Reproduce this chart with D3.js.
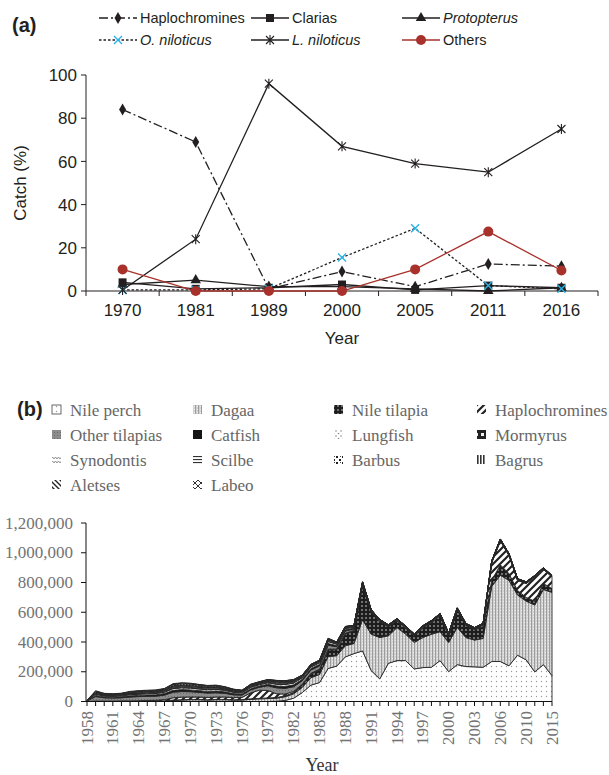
<!DOCTYPE html>
<html><head><meta charset="utf-8">
<script src="https://cdn.jsdelivr.net/npm/d3@7"></script>
<style>body{margin:0;background:#fff}svg{display:block}</style>
</head><body>
<svg id="chart" width="609" height="775"></svg>
<script>
// ---------- Panel (a): percentage of catch by taxon in survey years
const surveyYears = ["1970", "1981", "1989", "2000", "2005", "2011", "2016"];
const haplochromines = [84, 69, 1, 9, 2, 12.5, 11.5];
const clarias = [4, 1, 1.5, 3, 0.5, 2.5, 1.5];
const protopterus = [3, 5, 2, 2, 1, 0, 1.5];
const oNiloticus = [0.5, 0.5, 1, 15.5, 29, 2.5, 1];
const lNiloticus = [0.5, 24, 96, 67, 59, 55, 75];
const others = [10, 0, 0, 0, 10, 27.5, 9.5];
const catchTicks = [0, 20, 40, 60, 80, 100];

// ---------- Panel (b): landings by taxon (thousand tonnes)
const yearsB = ["1958","1959","1960","1961","1962","1963","1964","1965","1966","1967",
  "1968","1969","1970","1971","1972","1973","1974","1975","1976","1977",
  "1978","1979","1980","1981","1982","1983","1984","1985","1986","1987",
  "1988","1989","1990","1991","1992","1993","1994","1995","1996","1997",
  "1998","1999","2000","2001","2002","2003","2004","2005","2006","2007",
  "2008","2010","2011","2014","2015"];
const yearLabelsB = ["1958","1961","1964","1967","1970","1973","1976","1979","1982","1985",
  "1988","1991","1994","1997","2000","2003","2006","2010","2015"];
const landingTicks = [0, 200, 400, 600, 800, 1000, 1200];
const landingTickLabels = ["0","200,000","400,000","600,000","800,000","1,000,000","1,200,000"];

const nilePerch = [0,0,0,0,0,0,0,0,0,0, 0,0,0,0,0,0,0,0,0,0, 0,0,2,7,22,60,110,127,222,238,
  300,322,340,208,152,257,275,275,219,228, 230,275,201,248,235,233,230,269,269,240, 311,280,199,248,174];
const dagaa = [0,0,0,0,0,0,0,1,2,3, 8,10,12,12,10,12,12,10,10,15, 18,20,20,25,30,35,50,55,80,70,
  75,68,210,245,278,185,222,178,178,202, 222,194,196,250,195,180,194,505,580,575, 405,395,450,505,560];
const nileTilapia = [0,0,0,0,0,0,1,1,1,2, 2,2,2,2,2,2,2,2,3,3, 3,4,5,6,8,15,25,30,45,40,
  80,85,235,150,108,60,46,41,44,66, 78,109,49,118,81,70,80,40,70,45, 30,25,25,40,25];
const haplo = [0,3,3,3,4,4,4,5,5,8, 15,17,16,16,15,16,16,14,14,40, 55,50,25,12,8,6,5,5,5,4,
  4,3,2,2,2,2,2,2,2,2, 2,2,2,2,2,3,10,118,160,122, 68,93,162,95,78];
const otherTilapias = [4,30,22,20,21,26,28,28,28,30, 38,38,36,32,30,29,25,19,16,20, 20,32,40,38,32,24,22,22,26,16,
  15,10,5,3,3,3,3,3,3,3, 3,3,3,3,3,3,3,3,3,3, 3,3,3,3,3];
const catfish = [1,8,6,6,7,8,8,9,9,10, 12,13,12,11,11,11,10,8,7,8, 8,10,12,13,12,10,10,10,12,8,
  8,6,3,2,2,2,2,2,2,2, 2,2,2,2,2,2,2,2,2,2, 2,2,2,2,2];
const lungfish = [1,8,6,6,6,8,8,8,9,9, 12,12,12,11,11,11,10,9,8,9, 9,10,12,13,12,10,10,11,13,9,
  9,7,4,4,3,3,4,3,3,3, 4,3,3,3,3,2,3,4,4,4, 3,3,3,3,2];
const mormyrus = [0,3,3,3,3,3,4,4,4,4, 5,5,5,5,4,4,4,3,3,3, 3,3,4,4,4,3,3,3,4,3,
  3,2,1,1,1,1,1,1,1,1, 1,1,1,1,1,1,1,1,1,1, 1,1,1,1,1];
const synodontis = [0,4,3,3,3,4,4,4,4,5, 6,6,6,6,6,6,5,4,4,5, 4,5,6,6,6,5,5,5,6,4,
  4,3,1,1,1,1,1,1,1,1, 1,1,1,1,1,1,1,1,1,1, 1,1,1,1,1];
const scilbe = [0,2,2,2,2,2,3,3,3,3, 4,4,4,4,4,4,3,3,2,3, 3,4,4,4,4,3,3,3,4,3,
  2,2,1,0,0,0,0,0,0,0, 0,0,0,0,0,0,0,0,1,0, 0,0,0,0,0];
const barbus = [0,3,2,2,2,3,3,3,3,3, 4,4,4,4,4,4,3,3,2,3, 3,3,4,4,4,3,3,3,4,2,
  2,2,1,1,1,1,1,1,1,1, 1,1,1,1,1,1,1,1,1,1, 1,1,1,1,1];
const bagrus = [1,6,4,4,4,5,5,5,5,6, 8,9,9,8,7,7,6,5,4,4, 4,4,4,4,3,2,2,2,2,1,
  1,1,1,0,0,0,0,0,0,0, 0,0,0,0,0,0,0,0,0,0, 0,0,0,0,0];
const aletses = [0,2,2,1,2,2,2,2,2,2, 3,3,3,2,2,2,2,2,2,2, 2,2,3,3,2,1,1,1,1,1,
  1,0,0,0,0,0,0,0,0,0, 0,0,0,0,0,0,0,0,0,0, 0,0,0,0,0];
const labeo = [1,3,2,2,2,3,3,3,3,3, 3,3,2,2,2,2,2,1,1,1, 1,1,1,1,1,1,1,1,1,1,
  1,1,1,1,1,1,1,1,1,1, 1,1,1,1,1,1,1,1,1,1, 1,1,1,1,1];

const svg = d3.select("#chart");
const defs = svg.append("defs");
const INK = "#231f20";

// ================= Panel (a) =================
const ax = d3.scaleBand().domain(surveyYears).range([86, 598]);
const ay = d3.scaleLinear().domain([0, 100]).range([291, 75]);
const cx = d => ax(d) + ax.bandwidth() / 2;
const fontA = "'Liberation Sans', Arial, sans-serif";

const gA = svg.append("g");
gA.append("text").attr("x", 12).attr("y", 32).attr("font-family", fontA)
  .attr("font-size", 20).attr("font-weight", "bold").attr("fill", INK).text("(a)");

// axes
gA.append("line").attr("x1", 86).attr("x2", 86).attr("y1", 75).attr("y2", 291).attr("stroke", INK);
gA.append("line").attr("x1", 86).attr("x2", 598).attr("y1", 291).attr("y2", 291).attr("stroke", INK);
catchTicks.forEach(t => {
  gA.append("line").attr("x1", 81).attr("x2", 86).attr("y1", ay(t)).attr("y2", ay(t)).attr("stroke", INK);
  gA.append("text").attr("x", 77).attr("y", ay(t)).attr("dy", "0.36em").attr("text-anchor", "end")
    .attr("font-family", fontA).attr("font-size", 17).attr("fill", INK).text(t);
});
surveyYears.forEach((y, i) => {
  const xb = ax(y);
  gA.append("line").attr("x1", xb).attr("x2", xb).attr("y1", 291).attr("y2", 296).attr("stroke", INK);
  gA.append("text").attr("x", cx(y)).attr("y", 316).attr("text-anchor", "middle")
    .attr("font-family", fontA).attr("font-size", 17).attr("fill", INK).text(y);
});
gA.append("line").attr("x1", 598).attr("x2", 598).attr("y1", 291).attr("y2", 296).attr("stroke", INK);
gA.append("text").attr("x", 342).attr("y", 344).attr("text-anchor", "middle")
  .attr("font-family", fontA).attr("font-size", 17).attr("fill", INK).text("Year");
gA.append("text").attr("transform", "translate(26,183) rotate(-90)").attr("text-anchor", "middle")
  .attr("font-family", fontA).attr("font-size", 17).attr("fill", INK).text("Catch (%)");

const seriesA = [
  {name: "Haplochromines", values: haplochromines, dash: "9,3,2,3", color: INK, marker: "diamond", italic: false, lx: 99, ly: 18},
  {name: "Clarias", values: clarias, dash: null, color: INK, marker: "square", italic: false, lx: 251, ly: 18},
  {name: "Protopterus", values: protopterus, dash: null, color: INK, marker: "triangle", italic: true, lx: 402, ly: 18},
  {name: "O. niloticus", values: oNiloticus, dash: "2.5,2", color: INK, marker: "cross", italic: true, lx: 99, ly: 40},
  {name: "L. niloticus", values: lNiloticus, dash: null, color: INK, marker: "star", italic: true, lx: 251, ly: 40},
  {name: "Others", values: others, dash: null, color: "#a8322b", marker: "circle", italic: false, lx: 402, ly: 40}
];

function marker(g, type, x, y) {
  if (type === "diamond") g.append("path").attr("d", d3.symbol(d3.symbolDiamond, 42)()).attr("transform", `translate(${x},${y})`).attr("fill", INK);
  if (type === "square") g.append("path").attr("d", d3.symbol(d3.symbolSquare, 64)()).attr("transform", `translate(${x},${y})`).attr("fill", INK);
  if (type === "triangle") g.append("path").attr("d", d3.symbol(d3.symbolTriangle, 48)()).attr("transform", `translate(${x},${y})`).attr("fill", INK);
  if (type === "circle") g.append("circle").attr("cx", x).attr("cy", y).attr("r", 5).attr("fill", "#a8322b");
  if (type === "cross") {
    const s = 4;
    g.append("path").attr("d", `M${x-s},${y-s}L${x+s},${y+s}M${x-s},${y+s}L${x+s},${y-s}`)
      .attr("stroke", "#2bb3e6").attr("stroke-width", 1.4).attr("fill", "none");
  }
  if (type === "star") {
    const s = 4;
    g.append("path").attr("d", `M${x-s},${y-s}L${x+s},${y+s}M${x-s},${y+s}L${x+s},${y-s}M${x},${y-5}L${x},${y+5}`)
      .attr("stroke", INK).attr("stroke-width", 1.1).attr("fill", "none");
  }
}

const lineA = d3.line().x((d, i) => cx(surveyYears[i])).y(d => ay(d));
seriesA.forEach(s => {
  gA.append("path").attr("d", lineA(s.values)).attr("fill", "none").attr("stroke", s.color)
    .attr("stroke-width", 1.3).attr("stroke-dasharray", s.dash);
});
seriesA.forEach(s => {
  s.values.forEach((v, i) => marker(gA, s.marker, cx(surveyYears[i]), ay(v)));
});
// legend (a)
seriesA.forEach(s => {
  gA.append("line").attr("x1", s.lx).attr("x2", s.lx + 38).attr("y1", s.ly).attr("y2", s.ly)
    .attr("stroke", s.color).attr("stroke-width", 1.3).attr("stroke-dasharray", s.dash);
  marker(gA, s.marker, s.lx + 19, s.ly);
  gA.append("text").attr("x", s.lx + 41).attr("y", s.ly).attr("dy", "0.36em")
    .attr("font-family", fontA).attr("font-size", 14.5).attr("fill", INK)
    .attr("font-style", s.italic ? "italic" : "normal").text(s.name);
});

// ================= Panel (b) =================
const fontB = "'Liberation Serif', 'Times New Roman', serif";
const GREY = "#737373";

// fill patterns
function pattern(id, w, h, bg, draw) {
  const p = defs.append("pattern").attr("id", id).attr("patternUnits", "userSpaceOnUse")
    .attr("width", w).attr("height", h);
  p.append("rect").attr("width", w).attr("height", h).attr("fill", bg);
  draw(p);
}
pattern("pNP", 5, 5, "#fff", p => p.append("circle").attr("cx", 1.5).attr("cy", 1.5).attr("r", 0.7).attr("fill", "#9a9a9a"));
pattern("pDG", 3, 3, "#d2d2d2", p => {
  p.append("rect").attr("x", 0).attr("width", 1).attr("height", 3).attr("fill", "#9c9c9c");
  p.append("rect").attr("x", 2).attr("y", 1).attr("width", 1).attr("height", 1).attr("fill", "#eee");
});
pattern("pNT", 4, 4, "#1d1d1d", p => p.append("circle").attr("cx", 2).attr("cy", 2).attr("r", 0.8).attr("fill", "#dcdcdc"));
pattern("pHP", 7, 7, "#fff", p => {
  p.append("path").attr("d", "M-1,8L8,-1M-4,4L4,-4M3,11L11,3").attr("stroke", "#222").attr("stroke-width", 2.2);
});
pattern("pOT", 3, 3, "#8c8c8c", p => p.append("rect").attr("width", 1).attr("height", 1).attr("fill", "#6a6a6a"));
pattern("pCF", 4, 4, "#151515", p => {});
pattern("pLF", 5, 5, "#fff", p => {
  p.append("circle").attr("cx", 1).attr("cy", 1).attr("r", 0.8).attr("fill", "#888");
  p.append("circle").attr("cx", 3.5).attr("cy", 3.5).attr("r", 0.8).attr("fill", "#888");
});
pattern("pMM", 6, 6, "#222", p => p.append("rect").attr("x", 1).attr("y", 1).attr("width", 3).attr("height", 3).attr("fill", "#f2f2f2"));
pattern("pSY", 6, 4, "#fff", p => p.append("path").attr("d", "M0,3L1.5,1L3,3L4.5,1L6,3").attr("stroke", "#777").attr("stroke-width", 0.8).attr("fill", "none"));
pattern("pSC", 3, 3, "#fff", p => p.append("rect").attr("y", 0).attr("width", 3).attr("height", 1.1).attr("fill", "#333"));
pattern("pBB", 6, 6, "#fff", p => {
  p.append("rect").attr("x", 0).attr("y", 0).attr("width", 2).attr("height", 2).attr("fill", "#222");
  p.append("rect").attr("x", 3).attr("y", 3).attr("width", 2).attr("height", 2).attr("fill", "#222");
  p.append("rect").attr("x", 4).attr("y", 0).attr("width", 1).attr("height", 1).attr("fill", "#444");
});
pattern("pBG", 3, 3, "#fff", p => p.append("rect").attr("x", 0).attr("width", 1.6).attr("height", 3).attr("fill", "#333"));
pattern("pAL", 5, 5, "#fff", p => p.append("path").attr("d", "M-1,-1L6,6M-1,4L1,6M4,-1L6,1").attr("stroke", "#222").attr("stroke-width", 1.4));
pattern("pLB", 6, 6, "#fff", p => p.append("path").attr("d", "M0,0L6,6M6,0L0,6").attr("stroke", "#333").attr("stroke-width", 1));

const layers = [
  {key: "Nile perch", values: nilePerch, fill: "url(#pNP)"},
  {key: "Dagaa", values: dagaa, fill: "url(#pDG)"},
  {key: "Nile tilapia", values: nileTilapia, fill: "url(#pNT)"},
  {key: "Haplochromines", values: haplo, fill: "url(#pHP)"},
  {key: "Other tilapias", values: otherTilapias, fill: "url(#pOT)"},
  {key: "Catfish", values: catfish, fill: "url(#pCF)"},
  {key: "Lungfish", values: lungfish, fill: "url(#pLF)"},
  {key: "Mormyrus", values: mormyrus, fill: "url(#pMM)"},
  {key: "Synodontis", values: synodontis, fill: "url(#pSY)"},
  {key: "Scilbe", values: scilbe, fill: "url(#pSC)"},
  {key: "Barbus", values: barbus, fill: "url(#pBB)"},
  {key: "Bagrus", values: bagrus, fill: "url(#pBG)"},
  {key: "Aletses", values: aletses, fill: "url(#pAL)"},
  {key: "Labeo", values: labeo, fill: "url(#pLB)"}
];

const rows = yearsB.map((y, i) => {
  const r = {year: y};
  layers.forEach(l => r[l.key] = l.values[i]);
  return r;
});
const stacked = d3.stack().keys(layers.map(l => l.key))(rows);

const bx = d3.scalePoint().domain(yearsB).range([87, 552]);
const by = d3.scaleLinear().domain([0, 1200]).range([701.5, 523]);
const gB = svg.append("g");

const area = d3.area().x(d => bx(d.data.year)).y0(d => by(d[0])).y1(d => by(d[1]));
stacked.forEach((s, k) => {
  gB.append("path").attr("d", area(s)).attr("fill", layers[k].fill)
    .attr("stroke", "#262626").attr("stroke-width", 0.9).attr("stroke-linejoin", "round");
});

// axes (b)
gB.append("line").attr("x1", 86).attr("x2", 86).attr("y1", 523).attr("y2", 701.5).attr("stroke", "#111");
gB.append("line").attr("x1", 86).attr("x2", 552).attr("y1", 701.5).attr("y2", 701.5).attr("stroke", "#111").attr("stroke-width", 1.2);
landingTicks.forEach((t, i) => {
  gB.append("line").attr("x1", 81).attr("x2", 86).attr("y1", by(t)).attr("y2", by(t)).attr("stroke", "#111");
  gB.append("text").attr("x", 73).attr("y", by(t)).attr("dy", "0.33em").attr("text-anchor", "end")
    .attr("font-family", fontB).attr("font-size", 17).attr("fill", GREY).text(landingTickLabels[i]);
});
yearsB.forEach(y => {
  gB.append("line").attr("x1", bx(y)).attr("x2", bx(y)).attr("y1", 701.5).attr("y2", 706).attr("stroke", "#111");
});
yearLabelsB.forEach(y => {
  gB.append("text").attr("transform", `translate(${bx(y)},711) rotate(-90)`).attr("dy", "0.33em")
    .attr("text-anchor", "end").attr("font-family", fontB).attr("font-size", 17).attr("fill", GREY).text(y);
});
gB.append("text").attr("x", 322).attr("y", 771).attr("text-anchor", "middle")
  .attr("font-family", fontB).attr("font-size", 18).attr("fill", "#333").text("Year");

// legend (b)
gB.append("text").attr("x", 17).attr("y", 416).attr("font-family", fontA).attr("font-size", 20)
  .attr("font-weight", "bold").attr("fill", INK).text("(b)");
const legCols = [52, 193, 334, 477];
const legRows = [410, 435, 460, 485];
layers.forEach((l, i) => {
  const x = legCols[i % 4], y = legRows[Math.floor(i / 4)];
  gB.append("rect").attr("x", x).attr("y", y - 5).attr("width", 9).attr("height", 9)
    .attr("fill", l.fill).attr("stroke", l.key === "Nile perch" ? "#444" : "none").attr("stroke-width", 0.8);
  gB.append("text").attr("x", x + 18).attr("y", y).attr("dy", "0.33em")
    .attr("font-family", fontB).attr("font-size", 17).attr("fill", "#666").text(l.key);
});
</script>
</body></html>
